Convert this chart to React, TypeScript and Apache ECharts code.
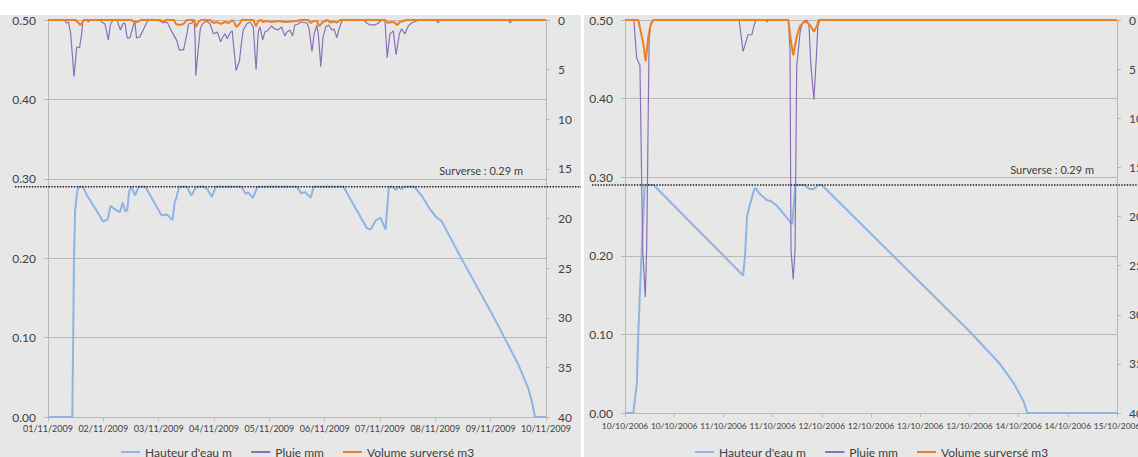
import { useEffect, useRef } from "react";
import * as echarts from "echarts";

// Tick labels of the two time axes
const NOV_TICKS = [
  "01/11/2009", "02/11/2009", "03/11/2009", "04/11/2009", "05/11/2009",
  "06/11/2009", "07/11/2009", "08/11/2009", "09/11/2009", "10/11/2009",
];
const OCT_TICKS = [
  "10/10/2006", "10/10/2006", "11/10/2006", "11/10/2006", "12/10/2006", "12/10/2006",
  "13/10/2006", "13/10/2006", "14/10/2006", "14/10/2006", "15/10/2006",
];

const NAME_HAUTEUR = "Hauteur d'eau m";
const NAME_PLUIE = "Pluie mm";
const NAME_VOLUME = "Volume surversé m3";
const SERIES_NAMES = [NAME_HAUTEUR, NAME_PLUIE, NAME_VOLUME];

// Overflow threshold (m)
const SURVERSE = 0.29;

// November 2009 event — [days since 01/11/2009, value]
const hauteurNov: number[][] = [
  [0, 0], [0.44, 0], [0.47, 0.2], [0.49, 0.26], [0.53, 0.285], [0.56, 0.29], [0.63, 0.29],
  [0.7, 0.28], [0.76, 0.273], [0.83, 0.265], [1.0, 0.246], [1.08, 0.249], [1.13, 0.266],
  [1.2, 0.262], [1.3, 0.258], [1.35, 0.27], [1.4, 0.259], [1.43, 0.26], [1.47, 0.285],
  [1.51, 0.29], [1.57, 0.279], [1.64, 0.29], [1.76, 0.29], [2.05, 0.254], [2.15, 0.255],
  [2.25, 0.248], [2.29, 0.27], [2.32, 0.276], [2.37, 0.29], [2.51, 0.29], [2.59, 0.279],
  [2.68, 0.29], [2.82, 0.29], [2.88, 0.287], [2.96, 0.277], [3.03, 0.29], [3.5, 0.29],
  [3.57, 0.281], [3.62, 0.283], [3.7, 0.276], [3.79, 0.29], [4.5, 0.29], [4.57, 0.282],
  [4.65, 0.283], [4.75, 0.276], [4.8, 0.29], [5.34, 0.29], [5.76, 0.238], [5.83, 0.236],
  [5.93, 0.248], [6.01, 0.251], [6.1, 0.236], [6.16, 0.29], [6.22, 0.29], [6.29, 0.286],
  [6.33, 0.29], [6.39, 0.287], [6.44, 0.29], [6.62, 0.29], [6.75, 0.279], [6.9, 0.262],
  [7.01, 0.252], [7.11, 0.247], [7.5, 0.196], [8.0, 0.133], [8.25, 0.1], [8.5, 0.066],
  [8.68, 0.036], [8.75, 0.018], [8.8, 0], [9, 0],
];
const pluieNov: number[][] = [
  [0, 0], [0.3, 0], [0.33, 0.3], [0.37, 0.2], [0.41, 1.4], [0.47, 5.7], [0.52, 2.7],
  [0.57, 2.8], [0.61, 1.3], [0.63, 0.1], [0.7, 0], [0.73, 0.2], [0.76, 0],
  [0.95, 0], [0.97, 0.2], [1.03, 0.4], [1.09, 2.0], [1.13, 0.4], [1.18, 0],
  [1.25, 0], [1.27, 0.4], [1.31, 1.0], [1.35, 0.4], [1.39, 0.3], [1.43, 1.8], [1.48, 1.8],
  [1.51, 1.2], [1.55, 0.4], [1.57, 0.2], [1.6, 1.8], [1.66, 1.7], [1.72, 1.0], [1.78, 0.3],
  [1.81, 0], [2.0, 0], [2.02, 0.1], [2.08, 0.3], [2.14, 0.2], [2.17, 0.4], [2.24, 1.2],
  [2.28, 1.6], [2.33, 2.1], [2.37, 3.0], [2.45, 3.0], [2.48, 2.2], [2.51, 1.4], [2.54, 0.4],
  [2.6, 0.3], [2.64, 0], [2.66, 2.0], [2.67, 5.6], [2.72, 2.7], [2.75, 1.0], [2.78, 0.5],
  [2.81, 0.3], [2.87, 0.1], [2.93, 0.4], [2.99, 1.4], [3.05, 1.2], [3.08, 1.5], [3.12, 2.2],
  [3.16, 1.7], [3.2, 1.4], [3.24, 1.9], [3.29, 1.3], [3.33, 1.1], [3.35, 2.4], [3.4, 5.1],
  [3.46, 4.1], [3.5, 2.1], [3.53, 1.0], [3.59, 0.4], [3.65, 0.2], [3.71, 0.7], [3.76, 5.0],
  [3.8, 1.2], [3.83, 0.7], [3.88, 2.0], [3.92, 1.2], [3.98, 1.0], [4.04, 0.6], [4.1, 0.9],
  [4.16, 1.0], [4.22, 0.7], [4.28, 1.6], [4.32, 1.2], [4.37, 1.0], [4.42, 1.6], [4.46, 0.5],
  [4.52, 0.4], [4.57, 0.2], [4.68, 0.3], [4.72, 0.9], [4.77, 3.2], [4.81, 1.4], [4.86, 0.5],
  [4.89, 1.7], [4.93, 4.7], [4.97, 1.7], [5.02, 0.7], [5.07, 0.5], [5.13, 1.0], [5.17, 0.9],
  [5.22, 1.8], [5.26, 0.9], [5.31, 0.1], [5.34, 0], [5.71, 0], [5.76, 0.3], [5.82, 0.5],
  [5.91, 0.5], [5.97, 0.3], [6.03, 0], [6.09, 0.1], [6.13, 3.8], [6.18, 1.4], [6.24, 1.1],
  [6.29, 3.5], [6.35, 1.4], [6.39, 0.9], [6.45, 1.4], [6.51, 0.6], [6.57, 0.3], [6.66, 0.1],
  [6.7, 0], [7.02, 0], [7.05, 0.3], [7.08, 0], [8.32, 0], [8.35, 0.3], [8.39, 0], [9, 0],
];
const volumeNov: number[][] = [
  [0, 0], [0.5, 0], [0.55, 0.3], [0.58, 0.5], [0.62, 0.3], [0.64, 0], [1.5, 0], [1.55, 0.15],
  [1.62, 0.2], [1.68, 0], [2.02, 0], [2.08, 0.15], [2.14, 0], [2.28, 0], [2.31, 0.4],
  [2.37, 0.5], [2.45, 0.4], [2.51, 0], [2.64, 0], [2.67, 0.7], [2.72, 0.2], [2.76, 0],
  [2.93, 0], [2.99, 0.3], [3.05, 0.2], [3.12, 0.4], [3.2, 0.2], [3.27, 0.3], [3.33, 0],
  [3.37, 0.3], [3.4, 0.7], [3.46, 0.4], [3.5, 0], [3.71, 0], [3.76, 0.65], [3.8, 0.1],
  [3.86, 0], [3.88, 0.2], [3.95, 0.1], [4.05, 0.2], [4.15, 0.1], [4.28, 0.2], [4.4, 0.15],
  [4.5, 0.1], [4.56, 0], [4.7, 0], [4.75, 0.3], [4.8, 0.1], [4.86, 0.1], [4.9, 0.6],
  [4.97, 0.2], [5.05, 0], [5.1, 0.25], [5.16, 0.15], [5.22, 0.25], [5.28, 0], [6.1, 0],
  [6.14, 0.3], [6.2, 0.2], [6.27, 0.25], [6.31, 0.55], [6.36, 0.2], [6.42, 0.1], [6.47, 0],
  [9, 0],
];

// October 2006 event — [days since 10/10/2006, value]
const hauteurOct: number[][] = [
  [0, 0], [0.085, 0], [0.12, 0.037], [0.135, 0.1], [0.152, 0.156], [0.17, 0.207],
  [0.186, 0.25], [0.2, 0.29], [0.29, 0.29], [1.2, 0.175], [1.22, 0.2], [1.24, 0.25],
  [1.265, 0.263], [1.315, 0.285], [1.33, 0.286], [1.36, 0.28], [1.44, 0.271], [1.49, 0.269],
  [1.55, 0.263], [1.7, 0.24], [1.73, 0.29], [1.82, 0.29], [1.875, 0.285], [1.92, 0.285],
  [1.965, 0.29], [2.0, 0.29], [3.5, 0.104], [3.8, 0.064], [3.95, 0.038], [4.05, 0.015],
  [4.09, 0], [5, 0],
];
const pluieOct: number[][] = [
  [0, 0], [0.09, 0], [0.119, 3.9], [0.152, 4.6], [0.18, 23.4], [0.206, 28.2], [0.22, 23.4],
  [0.245, 2.0], [0.262, 0.35], [0.29, 0], [1.16, 0], [1.18, 1.6], [1.2, 3.2], [1.23, 2.2],
  [1.25, 1.5], [1.29, 1.5], [1.31, 0.6], [1.33, 0], [1.43, 0], [1.445, 0.2], [1.46, 0],
  [1.66, 0], [1.677, 3.1], [1.687, 23.4], [1.71, 26.4], [1.728, 23.4], [1.745, 4.75],
  [1.78, 1.2], [1.8, 0.4], [1.83, 0], [1.85, 0], [1.87, 0.6], [1.89, 4.75], [1.92, 8.1],
  [1.945, 3.7], [1.96, 0.6], [1.98, 0], [5, 0],
];
const volumeOct: number[][] = [
  [0, 0], [0.135, 0], [0.186, 2.4], [0.21, 4.2], [0.237, 1.7], [0.26, 0.5], [0.288, 0],
  [1.66, 0], [1.69, 2.4], [1.71, 3.6], [1.745, 1.7], [1.78, 0.6], [1.81, 0.3], [1.84, 0.15],
  [1.88, 0.5], [1.92, 1.2], [1.95, 0.6], [1.97, 0], [5, 0],
];

const FONT = "Lato";
const GRID_GRAY = "#b9b9b9";
const PANEL_GRAY = "#e7e7e7";
const LABEL = "#404040";
const BLUE = "#8db4e2";
const PURPLE = "#8a70b8";
const ORANGE = "#f07f22";

function lineSeries(name: string, data: number[][], xi: number, yi: number, color: string, width: number) {
  return {
    type: "line",
    name,
    data,
    xAxisIndex: xi,
    yAxisIndex: yi,
    color,
    symbol: "none",
    showSymbol: false,
    lineStyle: { color, width },
  };
}

function xAxisFor(gridIndex: number, max: number, step: number, ticks: string[], margin: number, fontSize: number) {
  return {
    type: "value",
    gridIndex,
    min: 0,
    max,
    interval: step,
    axisLine: { show: true, onZero: false, lineStyle: { color: GRID_GRAY } },
    axisTick: { show: true, length: 4, lineStyle: { color: GRID_GRAY } },
    splitLine: { show: false },
    axisLabel: {
      fontSize,
      color: LABEL,
      margin,
      hideOverlap: false,
      showMinLabel: true,
      showMaxLabel: true,
      formatter: (v: number) => ticks[Math.round(v / step)] ?? "",
    },
  };
}

function leftAxisFor(gridIndex: number) {
  return {
    type: "value",
    gridIndex,
    position: "left",
    min: 0,
    max: 0.5,
    interval: 0.1,
    axisLine: { show: true, lineStyle: { color: GRID_GRAY } },
    axisTick: { show: true, length: 4, lineStyle: { color: GRID_GRAY } },
    splitLine: { show: true, lineStyle: { color: GRID_GRAY, width: 1 } },
    axisLabel: { fontSize: 12, color: LABEL, margin: 12, formatter: (v: number) => v.toFixed(2) },
  };
}

function rightAxisFor(gridIndex: number, margin: number) {
  return {
    type: "value",
    gridIndex,
    position: "right",
    inverse: true,
    min: 0,
    max: 40,
    interval: 5,
    axisLine: { show: true, lineStyle: { color: GRID_GRAY } },
    axisTick: { show: true, length: 4, lineStyle: { color: GRID_GRAY } },
    splitLine: { show: false },
    axisLabel: { fontSize: 12, color: LABEL, margin },
  };
}

function legendAt(left: number) {
  return {
    left,
    top: 441,
    data: SERIES_NAMES,
    icon: "rect",
    itemWidth: 19,
    itemHeight: 2,
    itemGap: 19,
    selectedMode: false,
    textStyle: { fontSize: 12, color: LABEL, fontFamily: FONT },
  };
}

export default function App() {
  const ref = useRef<HTMLDivElement>(null);

  useEffect(() => {
    document.body.style.margin = "0";
    if (!ref.current) return;
    const chart = echarts.init(ref.current, null, { renderer: "svg" });

    chart.setOption({
      animation: false,
      backgroundColor: "#ffffff",
      textStyle: { fontFamily: FONT },
      grid: [
        { left: 48, top: 20, width: 498, height: 397, outerBoundsMode: "none", containLabel: false },
        { left: 625, top: 20, width: 492, height: 393, outerBoundsMode: "none", containLabel: false },
      ],
      xAxis: [xAxisFor(0, 9, 1, NOV_TICKS, 7, 9), xAxisFor(1, 5, 0.5, OCT_TICKS, 9, 8.4)],
      yAxis: [leftAxisFor(0), rightAxisFor(0, 12), leftAxisFor(1), rightAxisFor(1, 12)],
      legend: [legendAt(116), legendAt(690)],
      series: [
        lineSeries(NAME_HAUTEUR, hauteurNov, 0, 0, BLUE, 2),
        lineSeries(NAME_PLUIE, pluieNov, 0, 1, PURPLE, 1.2),
        lineSeries(NAME_VOLUME, volumeNov, 0, 1, ORANGE, 2),
        lineSeries(NAME_HAUTEUR, hauteurOct, 1, 2, BLUE, 2),
        lineSeries(NAME_PLUIE, pluieOct, 1, 3, PURPLE, 1.2),
        lineSeries(NAME_VOLUME, volumeOct, 1, 3, ORANGE, 2),
      ],
    });

    // Overflow reference lines and their captions, placed through the axes
    const overlay = (xi: number, yi: number, xMax: number, clipRight: number) => {
      const y = chart.convertToPixel({ yAxisIndex: yi }, SURVERSE) as number;
      const x0 = chart.convertToPixel({ xAxisIndex: xi }, 0) as number;
      const x1 = chart.convertToPixel({ xAxisIndex: xi }, xMax) as number;
      return [
        {
          type: "line",
          z: 100,
          silent: true,
          shape: { x1: x0 - 33, y1: y, x2: Math.min(x1 + 36, clipRight), y2: y },
          style: { stroke: "#1a1a1a", lineWidth: 1.4, lineDash: [1.4, 1.4] },
        },
        {
          type: "text",
          z: 100,
          silent: true,
          x: x1 - 23,
          y: y - 16,
          style: {
            text: `Surverse : ${SURVERSE.toFixed(2)} m`,
            fontSize: 11,
            fontFamily: FONT,
            fill: LABEL,
            align: "right",
            verticalAlign: "middle",
          },
        },
      ];
    };

    chart.setOption({
      graphic: [
        { type: "rect", z: -100, silent: true, shape: { x: 0, y: 15, width: 581, height: 442 }, style: { fill: PANEL_GRAY } },
        { type: "rect", z: -100, silent: true, shape: { x: 584, y: 15, width: 554, height: 442 }, style: { fill: PANEL_GRAY } },
        ...overlay(0, 0, 9, 581),
        ...overlay(1, 2, 5, 1138),
      ],
    });

    return () => chart.dispose();
  }, []);

  return <div ref={ref} style={{ width: 1138, height: 457 }} />;
}
